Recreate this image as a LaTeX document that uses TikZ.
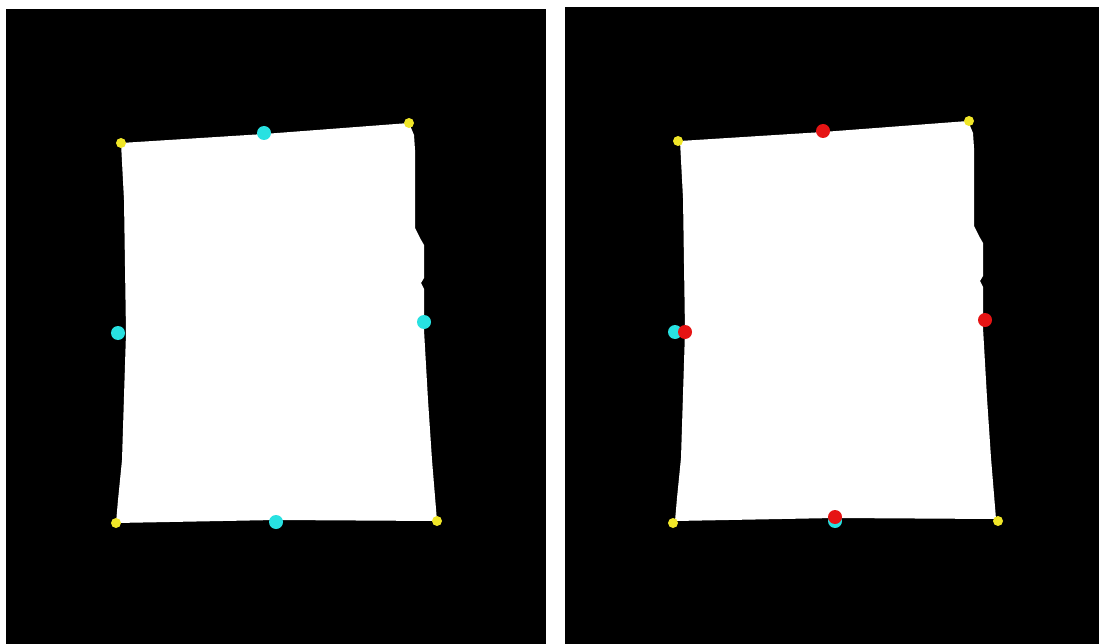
\documentclass[tikz,border=0pt]{standalone}
\definecolor{dotcyan}{RGB}{40,225,225}
\definecolor{dotyellow}{RGB}{240,230,40}
\definecolor{dotred}{RGB}{230,20,20}
\begin{document}
\begin{tikzpicture}[x=1pt,y=-1pt,
  corner/.style={circle,fill=dotyellow,inner sep=0pt,minimum size=10pt},
  cyandot/.style={circle,fill=dotcyan,inner sep=0pt,minimum size=14pt},
  reddot/.style={circle,fill=dotred,inner sep=0pt,minimum size=14pt}]
\useasboundingbox (0,0) rectangle (1099,644);
\fill[white] (0,0) rectangle (1099,644);
\fill[black] (6,9) rectangle (546,644);
\fill[black] (565,7) rectangle (1099,644);
\def\sheet{(121,143) -- (264,134) -- (409,123) -- (414,135) -- (415,150) -- (415,228) -- (420,238) -- (424,245) -- (424,278) -- (421,283) -- (424,289) -- (424,330) -- (428,400) -- (432,460) -- (437,521) -- (276,520) -- (116,523) -- (118,500) -- (122,460) -- (126,333) -- (124,200) -- cycle}
\fill[white] \sheet;
\begin{scope}[xshift=559pt,yshift=2pt]
\fill[white] \sheet;
\end{scope}
% left panel dots
\node[corner] (l1) at (121,143) {};
\node[corner] (l2) at (409,123) {};
\node[corner] (l3) at (437,521) {};
\node[corner] (l4) at (116,523) {};
\node[cyandot] (lc1) at (264,133) {};
\node[cyandot] (lc2) at (118,333) {};
\node[cyandot] (lc3) at (424,322) {};
\node[cyandot] (lc4) at (276,522) {};
% right panel dots
\node[corner] (r1) at (678,141) {};
\node[corner] (r2) at (969,121) {};
\node[corner] (r3) at (998,521) {};
\node[corner] (r4) at (673,523) {};
\node[cyandot] (rc2) at (675,332) {};
\node[cyandot] (rc4) at (835,521) {};
\node[reddot] (rr1) at (823,131) {};
\node[reddot] (rr2) at (685,332) {};
\node[reddot] (rr3) at (985,320) {};
\node[reddot] (rr4) at (835,517) {};
\end{tikzpicture}
\end{document}
